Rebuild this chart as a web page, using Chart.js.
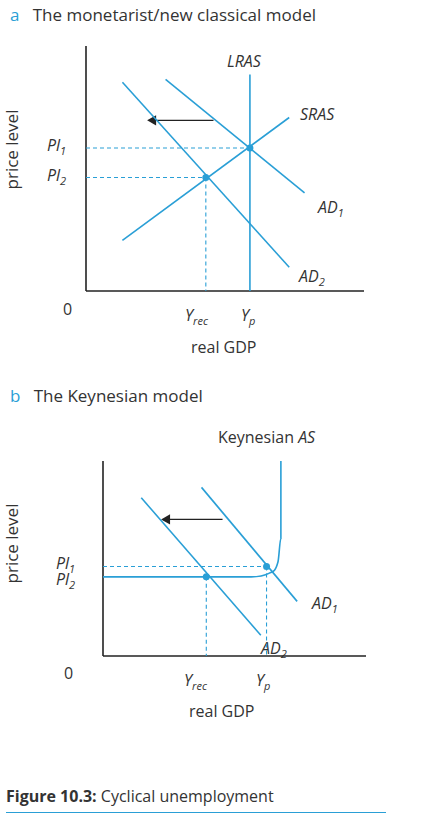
<!DOCTYPE html>
<html><head><meta charset="utf-8">
<script src="https://cdn.jsdelivr.net/npm/chart.js@4/dist/chart.umd.min.js"></script>
<style>
body{margin:0;width:427px;height:825px;background:#fff;position:relative;font-family:'Open Sans',sans-serif;color:#333;overflow:hidden}
.t{position:absolute;white-space:nowrap;font-size:16px}
.i{font-style:italic}
.blue{color:#2a9fd6}
canvas{position:absolute}
sub{font-size:11px}
</style></head><body>
<div class="t" style="left:10px;top:3px;font-size:17px"><span class="blue">a</span>&nbsp;&nbsp; The monetarist/new classical model</div>
<div class="t" style="left:10px;top:384px;font-size:17px"><span class="blue">b</span>&nbsp;&nbsp; The Keynesian model</div>
<div class="t" style="left:-28px;top:138px;font-size:17px;transform:rotate(-90deg)">price level</div>
<div class="t" style="left:-28px;top:532px;font-size:17px;transform:rotate(-90deg)">price level</div>

<div class="t i" style="left:227px;top:50px">LRAS</div>
<div class="t i" style="left:300px;top:103px">SRAS</div>
<div class="t i" style="left:318px;top:196px">AD<sub>1</sub></div>
<div class="t i" style="left:299px;top:265px">AD<sub>2</sub></div>
<div class="t i" style="left:47px;top:134px">Pl<sub>1</sub></div>
<div class="t i" style="left:47px;top:164px">Pl<sub>2</sub></div>
<div class="t" style="left:63px;top:298px">0</div>
<div class="t i" style="left:185px;top:304px">Y<sub>rec</sub></div>
<div class="t i" style="left:241px;top:304px">Y<sub>p</sub></div>
<div class="t" style="left:191px;top:336px">real GDP</div>

<div class="t" style="left:218px;top:426px">Keynesian <i>AS</i></div>
<div class="t i" style="left:312px;top:592px">AD<sub>1</sub></div>
<div class="t i" style="left:261px;top:637px">AD<sub>2</sub></div>
<div class="t i" style="left:56px;top:552px">Pl<sub>1</sub></div>
<div class="t i" style="left:56px;top:568px">Pl<sub>2</sub></div>
<div class="t" style="left:64px;top:662px">0</div>
<div class="t i" style="left:184px;top:669px">Y<sub>rec</sub></div>
<div class="t i" style="left:256px;top:669px">Y<sub>p</sub></div>
<div class="t" style="left:189px;top:700px">real GDP</div>

<div class="t" style="left:6px;top:785px;font-size:16px"><b>Figure 10.3:</b> Cyclical unemployment</div>
<div style="position:absolute;left:6px;top:812px;width:380px;height:1px;background:#2a9fd6"></div>

<canvas id="ca" style="left:80px;top:40px"></canvas>
<canvas id="cb" style="left:97px;top:455px"></canvas>
<script>
const BLUE = '#2a9fd6';
const INK  = '#222';

// panel a, offsets from origin (x right, y up)
const A_AXES_X = [{x:0,y:0},{x:290,y:0}];
const A_AXES_Y = [{x:0,y:0},{x:0,y:257}];
const A_LRAS = [{x:171,y:0},{x:171,y:227}];
const A_SRAS = [{x:38,y:53},{x:212,y:182}];
const A_AD1  = [{x:83,y:222},{x:228,y:103}];
const A_AD2  = [{x:38,y:219},{x:212,y:25}];
const A_PL1  = [{x:0,y:150},{x:171,y:150}];
const A_PL2  = [{x:0,y:119},{x:125,y:119}];
const A_YREC = [{x:125,y:119},{x:125,y:0}];
const A_ARROW = [{x:133,y:179},{x:70,y:179}];
const A_PTS  = [{x:171,y:150},{x:125,y:119}];

// panel b
const B_AXES_X = [{x:0,y:0},{x:275,y:0}];
const B_AXES_Y = [{x:0,y:0},{x:0,y:207}];
const B_KAS  = [{x:0,y:84},{x:155,y:84},{x:174,y:88},{x:183,y:100},{x:186,y:125},{x:186,y:207}];
const B_AD1  = [{x:103,y:179},{x:203,y:58}];
const B_AD2  = [{x:40,y:168},{x:165,y:22}];
const B_PL1  = [{x:0,y:95},{x:171,y:95}];
const B_YP   = [{x:171,y:95},{x:171,y:0}];
const B_YREC = [{x:108,y:84},{x:108,y:0}];
const B_ARROW = [{x:125,y:145},{x:67,y:145}];
const B_PTS  = [{x:108,y:84},{x:171,y:95}];

const line = (data, color, opts={}) => ({data, borderColor:color, borderWidth:1.6, showLine:true, pointRadius:0, fill:false, ...opts});
const dash = data => line(data, BLUE, {borderDash:[4,3], borderWidth:1.1});
const arrow = data => line(data, INK, {borderWidth:1.4, pointRadius:[0,6], pointStyle:'triangle', rotation:270, pointBackgroundColor:INK, pointBorderWidth:0});
const pts = data => ({data, showLine:false, pointRadius:3.5, pointBackgroundColor:BLUE, pointBorderWidth:0});

function build(id, w, h, datasets) {
  const c = document.getElementById(id);
  c.width = w; c.height = h;
  c.style.width = w+'px'; c.style.height = h+'px';
  new Chart(c, {
    type:'scatter',
    data:{datasets},
    options:{
      responsive:false, animation:false, maintainAspectRatio:false,
      layout:{padding:0},
      plugins:{legend:{display:false}, tooltip:{enabled:false}},
      elements:{line:{tension:0}},
      datasets:{scatter:{clip:false}},
      scales:{
        x:{type:'linear', min:0, max:w, display:false},
        y:{type:'linear', min:0, max:h, display:false}
      }
    }
  });
}

build('ca', 290, 257, [
  pts(A_PTS),
  dash(A_PL1), dash(A_PL2), dash(A_YREC),
  line(A_LRAS, BLUE), line(A_SRAS, BLUE), line(A_AD1, BLUE), line(A_AD2, BLUE),
  arrow(A_ARROW),
  line(A_AXES_X, INK), line(A_AXES_Y, INK)
]);
build('cb', 275, 207, [
  pts(B_PTS),
  dash(B_PL1), dash(B_YP), dash(B_YREC),
  line(B_KAS, BLUE, {cubicInterpolationMode:'monotone'}),
  line(B_AD1, BLUE), line(B_AD2, BLUE),
  arrow(B_ARROW),
  line(B_AXES_X, INK), line(B_AXES_Y, INK)
]);
</script>
</body></html>
